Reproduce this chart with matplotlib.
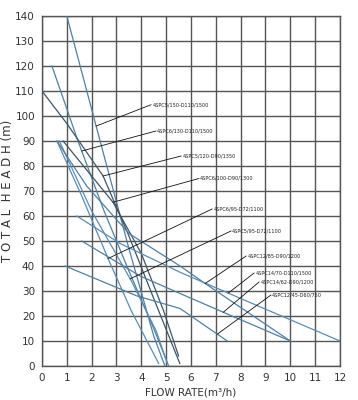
import matplotlib
matplotlib.use('Agg')
import matplotlib.pyplot as plt
import numpy as np

# pump curves: flow (m3/h) and head (m)
names = ['4SPC5/150-D110/1500', '4SPC6/130-D110/1500', '4SPC5/120-D90/1350',
         '4SPC6/100-D90/1300', '4SPC6/95-D72/1100', '4SPC5/95-D72/1100',
         '4SPC12/85-D90/1200', '4SPC14/70-D110/1500', '4SPC14/62-D90/1200',
         '4SPC12/45-D60/750']
flow_5_150 = [1.0, 2.34, 3.5, 4.5, 4.95]
head_5_150 = [140, 90, 47, 12, 0]
flow_6_130 = [0.4, 1.45, 2.5, 3.5, 4.5, 5.1]
head_6_130 = [120, 90, 62, 38, 15, 0]
flow_5_120 = [0.0, 1.0, 2.46, 3.5, 4.5, 5.55]
head_5_120 = [110, 97, 76, 52, 27, 1]
flow_6_100 = [0.85, 2.86, 4.0, 4.9, 5.5]
head_6_100 = [90, 65.5, 45, 22, 4]
flow_6_95 = [0.6, 1.6, 2.66, 3.6, 4.7]
head_6_95 = [90, 68, 43, 22, 1]
flow_5_95 = [0.7, 2.0, 3.6, 4.6, 5.05]
head_5_95 = [90, 62, 34, 14, 1]
flow_12_85 = [0.6, 1.8, 3.5, 5.56, 6.57, 10.0]
head_12_85 = [90, 72, 53, 40, 33, 10]
flow_14_70 = [1.4, 3.15, 5.56, 8.0, 12.0]
head_14_70 = [60, 49, 37.5, 27, 10]
flow_14_62 = [1.6, 3.95, 5.56, 7.3, 10.0]
head_14_62 = [50, 36, 29, 21.5, 10]
flow_12_45 = [0.93, 3.83, 5.56, 7.46]
head_12_45 = [40, 28, 23, 10]

flows = [flow_5_150, flow_6_130, flow_5_120, flow_6_100, flow_6_95, flow_5_95,
         flow_12_85, flow_14_70, flow_14_62, flow_12_45]
heads = [head_5_150, head_6_130, head_5_120, head_6_100, head_6_95, head_5_95,
         head_12_85, head_14_70, head_14_62, head_12_45]
colors = ['#4f80a3', '#4f80a3', '#3e5568', '#3e5568', '#5a8db3', '#5a8db3',
          '#4f80a3', '#5a8db3', '#4f80a3', '#4f80a3']

# where each label sits and where its leader touches the curve (x only)
label_xy = [(4.44, 104.5), (4.64, 94), (5.65, 84), (6.37, 75), (6.9, 62.8),
            (7.66, 54), (8.27, 44), (8.59, 37.2), (8.79, 33.6), (9.27, 28.4)]
touch_x = [2.18, 1.6, 2.46, 2.86, 2.66, 3.55, 6.57, 7.5, 7.3, 7.06]

fig = plt.figure(figsize=(3.58, 4.0), dpi=100)
ax = fig.add_axes([0.1173, 0.085, 0.8324, 0.875])

for f, h, c in zip(flows, heads, colors):
    ax.plot(f, h, color=c, lw=0.9, zorder=3)

for (lx, ly), tx, f, h, nm in zip(label_xy, touch_x, flows, heads, names):
    ty = np.interp(tx, f, h)
    ax.plot([tx, lx - 0.05], [ty, ly], color='#111111', lw=0.6, zorder=4)
    ax.text(lx, ly, nm, fontsize=3.6, color='#222222', va='center', ha='left', zorder=5)

ax.set_xlim(0, 12)
ax.set_ylim(0, 140)
ax.set_xticks(range(0, 13))
ax.set_yticks(range(0, 141, 10))
ax.grid(True, color='#555555', lw=1.0)
ax.set_axisbelow(True)
for s in ax.spines.values():
    s.set_color('#555555')
    s.set_linewidth(1.0)
ax.tick_params(length=0, labelsize=7.5, colors='#333333', pad=5)
ax.set_xlabel('FLOW RATE(m³/h)', fontsize=7.5, color='#333333', labelpad=3)
ax.set_ylabel('T O T A L  H E A D H (m)', fontsize=8.5, color='#333333', labelpad=1)

fig.savefig('out.png', dpi=100)
